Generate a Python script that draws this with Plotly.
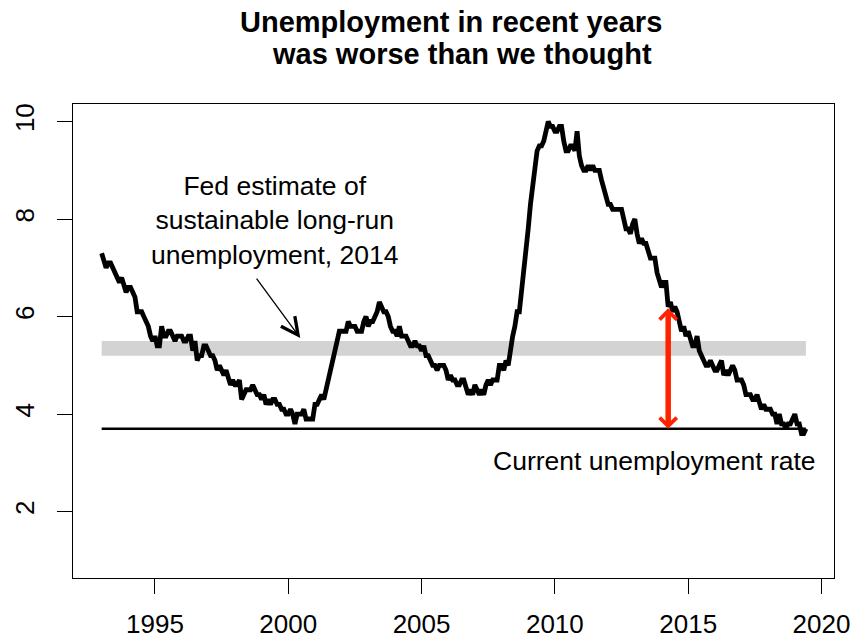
import numpy as np
import plotly.graph_objects as go

# Monthly US unemployment rate (%), Jan 1993 - Jun 2019
start_year = 1993
unemployment = [
    7.3, 7.1, 7.0, 7.1, 7.1, 7.0, 6.9, 6.8, 6.7, 6.8, 6.6, 6.5,  # 1993
    6.6, 6.6, 6.5, 6.4, 6.1, 6.1, 6.1, 6.0, 5.9, 5.8, 5.6, 5.5,  # 1994
    5.6, 5.4, 5.4, 5.8, 5.6, 5.6, 5.7, 5.7, 5.6, 5.5, 5.6, 5.6,  # 1995
    5.6, 5.5, 5.5, 5.6, 5.6, 5.3, 5.5, 5.1, 5.2, 5.2, 5.4, 5.4,  # 1996
    5.3, 5.2, 5.2, 5.1, 4.9, 5.0, 4.9, 4.8, 4.9, 4.7, 4.6, 4.7,  # 1997
    4.6, 4.6, 4.7, 4.3, 4.4, 4.5, 4.5, 4.5, 4.6, 4.5, 4.4, 4.4,  # 1998
    4.3, 4.4, 4.2, 4.3, 4.2, 4.3, 4.3, 4.2, 4.2, 4.1, 4.1, 4.0,  # 1999
    4.0, 4.1, 4.0, 3.8, 4.0, 4.0, 4.0, 4.1, 3.9, 3.9, 3.9, 3.9,  # 2000
    4.2, 4.2, 4.3, 4.4, 4.3, 4.5, 4.6, 4.9, 5.0, 5.3, 5.5, 5.7,  # 2001
    5.7, 5.7, 5.7, 5.9, 5.8, 5.8, 5.8, 5.7, 5.7, 5.7, 5.9, 6.0,  # 2002
    5.8, 5.9, 5.9, 6.0, 6.1, 6.3, 6.2, 6.1, 6.1, 6.0, 5.8, 5.7,  # 2003
    5.7, 5.6, 5.8, 5.6, 5.6, 5.6, 5.5, 5.4, 5.4, 5.5, 5.4, 5.4,  # 2004
    5.3, 5.4, 5.2, 5.2, 5.1, 5.0, 5.0, 4.9, 5.0, 5.0, 5.0, 4.9,  # 2005
    4.7, 4.8, 4.7, 4.7, 4.6, 4.6, 4.7, 4.7, 4.5, 4.4, 4.5, 4.4,  # 2006
    4.6, 4.5, 4.4, 4.5, 4.4, 4.6, 4.7, 4.6, 4.7, 4.7, 4.7, 5.0,  # 2007
    5.0, 4.9, 5.1, 5.0, 5.4, 5.6, 5.8, 6.1, 6.1, 6.5, 6.8, 7.3,  # 2008
    7.8, 8.3, 8.7, 9.0, 9.4, 9.5, 9.5, 9.6, 9.8, 10.0, 9.9, 9.9,  # 2009
    9.8, 9.8, 9.9, 9.9, 9.6, 9.4, 9.4, 9.5, 9.5, 9.4, 9.8, 9.3,  # 2010
    9.1, 9.0, 9.0, 9.1, 9.0, 9.1, 9.0, 9.0, 9.0, 8.8, 8.6, 8.5,  # 2011
    8.3, 8.3, 8.2, 8.2, 8.2, 8.2, 8.2, 8.0, 7.8, 7.8, 7.7, 7.9,  # 2012
    8.0, 7.7, 7.5, 7.6, 7.5, 7.5, 7.3, 7.2, 7.2, 7.2, 6.9, 6.7,  # 2013
    6.6, 6.7, 6.7, 6.2, 6.3, 6.1, 6.2, 6.1, 5.9, 5.7, 5.8, 5.6,  # 2014
    5.7, 5.5, 5.4, 5.4, 5.6, 5.3, 5.2, 5.1, 5.0, 5.0, 5.1, 5.0,  # 2015
    4.9, 4.9, 5.0, 5.1, 4.8, 4.9, 4.8, 4.9, 5.0, 4.9, 4.7, 4.7,  # 2016
    4.7, 4.6, 4.4, 4.4, 4.4, 4.3, 4.3, 4.4, 4.2, 4.1, 4.2, 4.1,  # 2017
    4.1, 4.1, 4.0, 4.0, 3.8, 4.0, 3.8, 3.8, 3.7, 3.8, 3.8, 3.9,  # 2018
    4.0, 3.8, 3.8, 3.6, 3.6, 3.7,                                # 2019
]

fed_longrun_low = 5.2
fed_longrun_high = 5.5
current_rate = 3.7

gap_date = 2014.25          # April 2014
gap_rate = 6.2

x_tick_years = [1995, 2000, 2005, 2010, 2015, 2020]
y_tick_values = [2, 4, 6, 8, 10]

title_line1 = "Unemployment in recent years"
title_line2 = "was worse than we thought"
fed_label = "Fed estimate of<br>sustainable long-run<br>unemployment, 2014"
current_label = "Current unemployment rate"

months = start_year + np.arange(len(unemployment)) / 12.0
first, last = months[0], months[-1]

FONT = "Liberation Sans, Arial, Helvetica, sans-serif"

FIG_W, FIG_H = 853, 641
ML, MR, MT, MB = 73, 19, 104, 63
PLOT_W = FIG_W - ML - MR
PLOT_H = FIG_H - MT - MB


def paper_x(px):
    return (px - ML) / PLOT_W


def paper_y(py):
    return (FIG_H - MB - py) / PLOT_H


fig = go.Figure()

fig.add_trace(go.Scatter(
    x=months, y=unemployment, mode="lines",
    line=dict(color="black", width=4.8),
    hoverinfo="skip", showlegend=False,
))

# Fed long-run band
fig.add_shape(type="rect", xref="x", yref="y",
              x0=first, x1=last, y0=fed_longrun_low, y1=fed_longrun_high,
              fillcolor="#D3D3D3", line=dict(width=0), layer="below")
# current unemployment line
fig.add_shape(type="line", xref="x", yref="y",
              x0=first, x1=last, y0=current_rate, y1=current_rate,
              line=dict(color="black", width=2.6), layer="below")

# red double arrow
fig.add_annotation(
    x=gap_date, y=current_rate, ax=gap_date, ay=gap_rate,
    xref="x", yref="y", axref="x", ayref="y",
    text="", showarrow=True, arrowside="end+start",
    arrowhead=4, startarrowhead=4, arrowsize=0.6, startarrowsize=0.6,
    arrowwidth=5.5, arrowcolor="#FF2200",
)

# thin pointer arrow
fig.add_annotation(
    x=2000.45, y=5.56, ax=1998.77, ay=6.81,
    xref="x", yref="y", axref="x", ayref="y",
    text="", showarrow=True, arrowhead=5, arrowsize=2.6,
    arrowwidth=1.3, arrowcolor="black",
)

fig.add_annotation(
    x=1999.5, y=7.97, xref="x", yref="y", text=fed_label,
    showarrow=False, xanchor="center", yanchor="middle", align="center",
    font=dict(family=FONT, size=26.5, color="black"),
)
fig.add_annotation(
    x=2013.72, y=3.04, xref="x", yref="y", text=current_label,
    showarrow=False, xanchor="center", yanchor="middle",
    font=dict(family=FONT, size=26.5, color="black"),
)

# title (two lines, second slightly shifted as in the original)
fig.add_annotation(
    x=paper_x(450.5), y=paper_y(22), xref="paper", yref="paper",
    text="<b>%s</b>" % title_line1, showarrow=False,
    xanchor="center", yanchor="middle",
    font=dict(family=FONT, size=29, color="black"),
)
fig.add_annotation(
    x=paper_x(462), y=paper_y(54), xref="paper", yref="paper",
    text="<b>%s</b>" % title_line2, showarrow=False,
    xanchor="center", yanchor="middle",
    font=dict(family=FONT, size=29, color="black"),
)

axis_common = dict(
    showgrid=False, zeroline=False, showline=True, mirror=True,
    linecolor="black", linewidth=1.4, automargin=False,
    ticks="outside", ticklen=15, tickwidth=1.3, tickcolor="black",
    tickfont=dict(family=FONT, size=26, color="black"),
)

fig.update_xaxes(range=[1991.925, 2020.47], tickmode="array",
                 tickvals=x_tick_years, ticklabelstandoff=8, **axis_common)
fig.update_yaxes(range=[0.64, 10.36], tickmode="array",
                 tickvals=y_tick_values, tickangle=-90,
                 ticklabelstandoff=12, **axis_common)

fig.update_layout(
    template="none",
    width=FIG_W, height=FIG_H,
    margin=dict(l=ML, r=MR, t=MT, b=MB),
    paper_bgcolor="white", plot_bgcolor="white",
    showlegend=False,
)

# remove the browser's default 8px page margin so the figure fills the window
fig.write_html("out.html", config={"displayModeBar": False},
               post_script="document.body.style.margin='0px';")
